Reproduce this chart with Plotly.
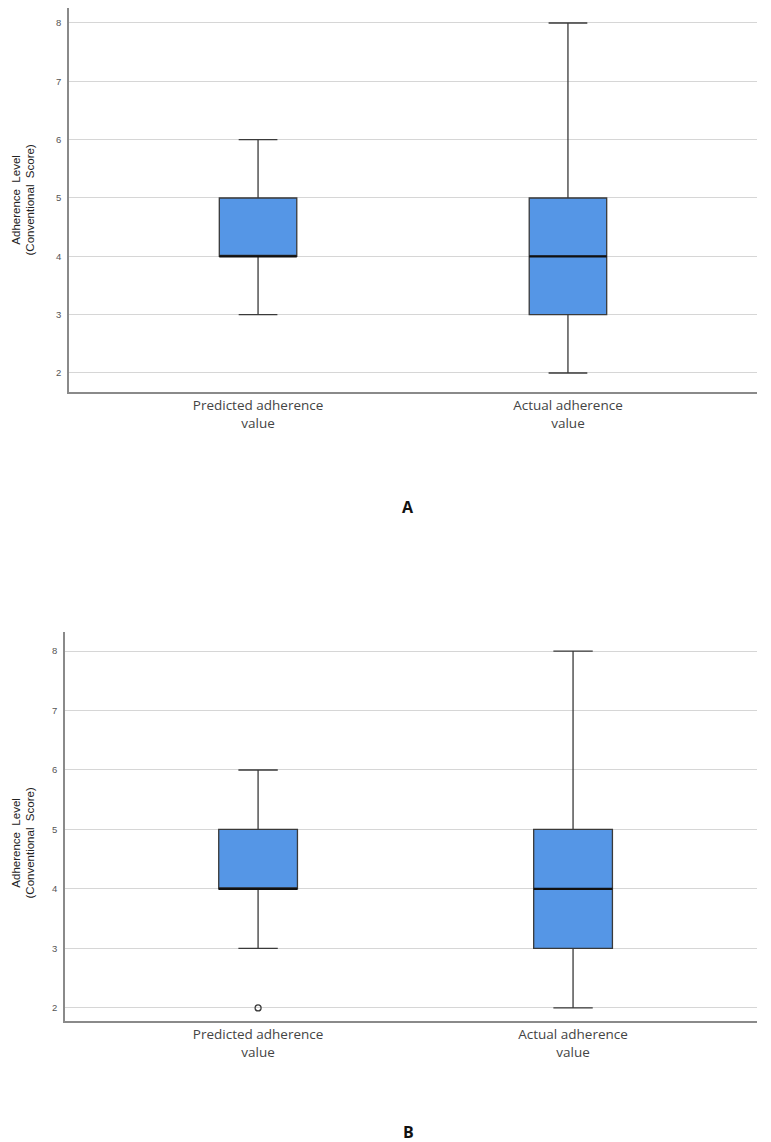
import plotly.graph_objects as go

# page body has an 8px margin, so the figure is drawn 8px smaller and all pixel
# positions below are measured from the reference and shifted by that margin
OFF = 8
W, H = 771 - OFF, 1142 - OFF

categories = ["Predicted adherence<br>value", "Actual adherence<br>value"]
positions = [0, 1]

# Panel A stats
a_q1 = [4, 3]
a_median = [4, 4]
a_q3 = [5, 5]
a_low = [3, 2]
a_high = [6, 8]

# Panel B stats
b_q1 = [4, 3]
b_median = [4, 4]
b_q3 = [5, 5]
b_low = [3, 2]
b_high = [6, 8]
b_outlier_x = [0]
b_outlier_y = [2]

box_color = "#5596E6"
line_color = "#3a3a3a"
box_w = 0.25

fig = go.Figure()

def add_panel(q1, med, q3, lo, hi, xa, ya):
    fig.add_trace(go.Box(
        x=positions, q1=q1, median=med, q3=q3, lowerfence=lo, upperfence=hi,
        fillcolor=box_color, line=dict(color=line_color, width=1.3),
        width=box_w, whiskerwidth=0.5, boxpoints=False, showlegend=False,
        xaxis=xa, yaxis=ya, hoverinfo="skip"))
    # thicker median lines
    for p, m in zip(positions, med):
        fig.add_trace(go.Scatter(
            x=[p - box_w / 2, p + box_w / 2], y=[m, m], mode="lines",
            line=dict(color="#111111", width=2.2), showlegend=False,
            xaxis=xa, yaxis=ya, hoverinfo="skip"))

add_panel(a_q1, a_median, a_q3, a_low, a_high, "x", "y")
add_panel(b_q1, b_median, b_q3, b_low, b_high, "x2", "y2")
fig.add_trace(go.Scatter(
    x=b_outlier_x, y=b_outlier_y, mode="markers",
    marker=dict(symbol="circle-open", size=6, color=line_color, line=dict(width=1.3)),
    showlegend=False, xaxis="x2", yaxis="y2", hoverinfo="skip"))

def px_x(p):
    return min(1, max(0, (p - OFF) / W))

def px_y(p):
    return min(1, max(0, 1 - (p - OFF) / H))

xcommon = dict(
    tickvals=positions, ticktext=categories, showgrid=False, zeroline=False,
    showline=True, linecolor="#8a8a8a", linewidth=1.5, ticks="",
    tickfont=dict(family="Open Sans, Lato, sans-serif", size=13.5, color="#444444"),
    fixedrange=True)
ycommon = dict(
    tickvals=[2, 3, 4, 5, 6, 7, 8], showgrid=True, gridcolor="#d6d6d6", gridwidth=1.2,
    zeroline=False, showline=True, linecolor="#8a8a8a", linewidth=1.5, ticks="",
    tickfont=dict(family="Liberation Sans, Arial, sans-serif", size=9.5, color="#555555"),
    ticklabelstandoff=4)

fig.update_layout(
    width=W, height=H, margin=dict(l=0, r=0, t=0, b=0),
    plot_bgcolor="white", paper_bgcolor="white",
    xaxis=dict(domain=[px_x(69), px_x(757)], range=[-0.61, 1.61], anchor="y", **xcommon),
    yaxis=dict(domain=[px_y(392), px_y(8)], range=[1.674, 8.257], anchor="x", **ycommon),
    xaxis2=dict(domain=[px_x(65), px_x(757)], range=[-0.613, 1.584], anchor="y2", **xcommon),
    yaxis2=dict(domain=[px_y(1021), px_y(632)], range=[1.78, 8.32], anchor="x2", **ycommon),
)

ytitle = "Adherence  Level<br>(Conventional  Score)"
tfont = dict(family="Liberation Sans, Arial, sans-serif", size=11.5, color="#222222")
fig.add_annotation(text=ytitle, x=0, y=px_y(200), xref="paper", yref="paper",
                   textangle=-90, showarrow=False, xanchor="left", yanchor="middle",
                   font=tfont, borderpad=0)
fig.add_annotation(text=ytitle, x=0, y=px_y(843), xref="paper", yref="paper",
                   textangle=-90, showarrow=False, xanchor="left", yanchor="middle",
                   font=tfont, borderpad=0)
fig.add_annotation(text="<b>A</b>", x=px_x(408), y=px_y(507), xref="paper", yref="paper",
                   showarrow=False, xanchor="center", yanchor="middle",
                   font=dict(family="Open Sans, sans-serif", size=16, color="#111111"))
fig.add_annotation(text="<b>B</b>", x=px_x(408), y=px_y(1132), xref="paper", yref="paper",
                   showarrow=False, xanchor="center", yanchor="middle",
                   font=dict(family="Open Sans, sans-serif", size=16, color="#111111"))

fig.write_html("out.html")
